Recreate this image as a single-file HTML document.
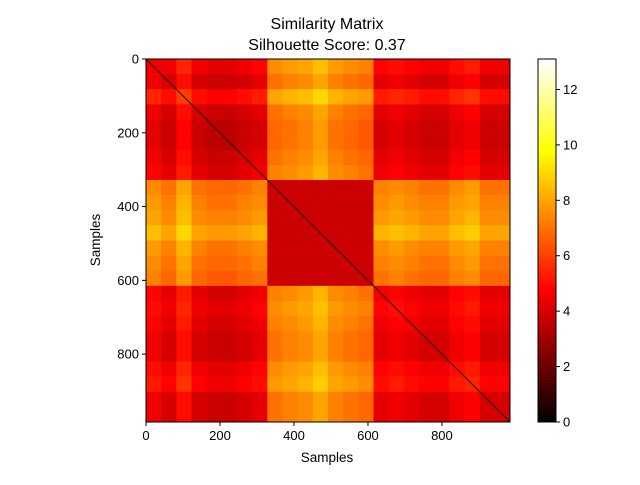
<!DOCTYPE html>
<html><head><meta charset="utf-8"><style>
body{margin:0;background:#fff;}
svg text{font-family:"Liberation Sans","DejaVu Sans",sans-serif;fill:#000;}
</style></head><body>
<svg id="chart" width="640" height="480" viewBox="0 0 640 480" xmlns="http://www.w3.org/2000/svg">
<text x="327" y="29" font-size="16" text-anchor="middle">Similarity Matrix</text>
<text x="327" y="50" font-size="16" text-anchor="middle">Silhouette Score: 0.37</text>
<g id="heat"></g>
<g id="axes"></g>
<g id="cbar"></g>
<text x="327" y="462" font-size="13.5" text-anchor="middle">Samples</text>
<text x="100" y="240" font-size="13.5" text-anchor="middle" transform="rotate(-90 100 240)">Samples</text>
</svg>
<script>
const nSamples = 984;
const vmax = 13.1;
const xTicks = [0,200,400,600,800];
const yTicks = [0,200,400,600,800];
const cbarTicks = [0,2,4,6,8,10,12];
const matrix = [
[4.5,4.5,5.5,4.5,4.3,4.3,4.5,4.8,7.5,7.8,8,8.5,7.8,7.5,7.3,4.8,5,4.8,4.5,4.5,5,5.3,4.5,4.5],
[4.5,4,5,4,3.8,3.8,4,4.3,7,7.3,7.5,8,7.3,7,6.8,4.3,4.5,4.3,4,4,4.5,4.8,4,4],
[5.5,5,6,5,4.8,4.8,5,5.3,8,8.3,8.5,9,8.3,8,7.8,5.3,5.5,5.3,5,5,5.5,5.8,5,5],
[4.5,4,5,4,3.8,3.8,4,4.3,7,7.3,7.5,8,7.3,7,6.8,4.3,4.5,4.3,4,4,4.5,4.8,4,4],
[4.3,3.8,4.8,3.8,3.5,3.5,3.8,4,6.8,7,7.3,7.8,7,6.8,6.5,4,4.3,4,3.8,3.8,4.3,4.5,3.8,3.8],
[4.3,3.8,4.8,3.8,3.5,3.5,3.8,4,6.8,7,7.3,7.8,7,6.8,6.5,4,4.3,4,3.8,3.8,4.3,4.5,3.8,3.8],
[4.5,4,5,4,3.8,3.8,4,4.3,7,7.3,7.5,8,7.3,7,6.8,4.3,4.5,4.3,4,4,4.5,4.8,4,4],
[4.8,4.3,5.3,4.3,4,4,4.3,4.5,7.3,7.5,7.8,8.3,7.5,7.3,7,4.5,4.8,4.5,4.3,4.3,4.8,5,4.3,4.3],
[7.5,7,8,7,6.8,6.8,7,7.3,3.8,3.8,3.8,3.8,3.8,3.8,3.8,7.3,7.5,7.3,7,7,7.5,7.8,7,7],
[7.8,7.3,8.3,7.3,7,7,7.3,7.5,3.8,3.8,3.8,3.8,3.8,3.8,3.8,7.5,7.8,7.5,7.3,7.3,7.8,8,7.3,7.3],
[8,7.5,8.5,7.5,7.3,7.3,7.5,7.8,3.8,3.8,3.8,3.8,3.8,3.8,3.8,7.8,8,7.8,7.5,7.5,8,8.3,7.5,7.5],
[8.5,8,9,8,7.8,7.8,8,8.3,3.8,3.8,3.8,3.8,3.8,3.8,3.8,8.3,8.5,8.3,8,8,8.5,8.8,8,8],
[7.8,7.3,8.3,7.3,7,7,7.3,7.5,3.8,3.8,3.8,3.8,3.8,3.8,3.8,7.5,7.8,7.5,7.3,7.3,7.8,8,7.3,7.3],
[7.5,7,8,7,6.8,6.8,7,7.3,3.8,3.8,3.8,3.8,3.8,3.8,3.8,7.3,7.5,7.3,7,7,7.5,7.8,7,7],
[7.3,6.8,7.8,6.8,6.5,6.5,6.8,7,3.8,3.8,3.8,3.8,3.8,3.8,3.8,7,7.3,7,6.8,6.8,7.3,7.5,6.8,6.8],
[4.8,4.3,5.3,4.3,4,4,4.3,4.5,7.3,7.5,7.8,8.3,7.5,7.3,7,4.5,4.8,4.5,4.3,4.3,4.8,5,4.3,4.3],
[5,4.5,5.5,4.5,4.3,4.3,4.5,4.8,7.5,7.8,8,8.5,7.8,7.5,7.3,4.8,5,4.8,4.5,4.5,5,5.3,4.5,4.5],
[4.8,4.3,5.3,4.3,4,4,4.3,4.5,7.3,7.5,7.8,8.3,7.5,7.3,7,4.5,4.8,4.5,4.3,4.3,4.8,5,4.3,4.3],
[4.5,4,5,4,3.8,3.8,4,4.3,7,7.3,7.5,8,7.3,7,6.8,4.3,4.5,4.3,4,4,4.5,4.8,4,4],
[4.5,4,5,4,3.8,3.8,4,4.3,7,7.3,7.5,8,7.3,7,6.8,4.3,4.5,4.3,4,4,4.5,4.8,4,4],
[5,4.5,5.5,4.5,4.3,4.3,4.5,4.8,7.5,7.8,8,8.5,7.8,7.5,7.3,4.8,5,4.8,4.5,4.5,5,5.3,4.5,4.5],
[5.3,4.8,5.8,4.8,4.5,4.5,4.8,5,7.8,8,8.3,8.8,8,7.8,7.5,5,5.3,5,4.8,4.8,5.3,5.5,4.8,4.8],
[4.5,4,5,4,3.8,3.8,4,4.3,7,7.3,7.5,8,7.3,7,6.8,4.3,4.5,4.3,4,4,4.5,4.8,4,4],
[4.5,4,5,4,3.8,3.8,4,4.3,7,7.3,7.5,8,7.3,7,6.8,4.3,4.5,4.3,4,4,4.5,4.8,4,4]
];
const NS='http://www.w3.org/2000/svg';
const X0=146,X1=510,Y0=59,Y1=422,CX0=538,CX1=556;
const xScale=v=>X0+(X1-X0)*v/nSamples;
const yScale=v=>Y0+(Y1-Y0)*v/nSamples;
const cScale=v=>Y1-(Y1-Y0)*v/vmax;
function clamp(x){return Math.max(0,Math.min(1,x));}
function hot(v){const t=clamp(v/vmax);
 const r=clamp(t/0.365),g=clamp((t-0.365)/0.381),b=clamp((t-0.746)/0.254);
 return `rgb(${Math.round(r*255)},${Math.round(g*255)},${Math.round(b*255)})`;}
function mk(tag,attrs,parent){const e=document.createElementNS(NS,tag);for(const k in attrs)e.setAttribute(k,attrs[k]);parent.appendChild(e);return e;}
const heat=document.getElementById('heat');
const n=matrix.length, step=nSamples/n;
matrix.forEach((row,i)=>row.forEach((v,j)=>{
 const x=xScale(j*step),y=yScale(i*step);
 const r=mk('rect',{x:x,y:y,width:xScale((j+1)*step)-x+0.3,height:yScale((i+1)*step)-y+0.3,fill:hot(v)},heat);
 
 
}));
const diag=mk('line',{x1:X0,y1:Y0,x2:X1,y2:Y1,stroke:'#200',"stroke-width":1},heat);


const axes=document.getElementById('axes');
const frame=mk('rect',{x:X0,y:Y0,width:X1-X0,height:Y1-Y0,fill:'none',stroke:'#000','stroke-width':1},axes);


xTicks.forEach(t=>{const x=xScale(t);
 const l=mk('line',{x1:x,x2:x,y1:Y1,y2:Y1+4,stroke:'#000'},axes);
 
 
 const tx=mk('text',{x:x,y:Y1+18,'font-size':13,'text-anchor':'middle'},axes);tx.textContent=t;
 
 
});
yTicks.forEach(t=>{const y=yScale(t);
 const l=mk('line',{x1:X0-4,x2:X0,y1:y,y2:y,stroke:'#000'},axes);
 
 
 const tx=mk('text',{x:X0-7,y:y+4.5,'font-size':13,'text-anchor':'end'},axes);tx.textContent=t;
 
 
});
const cbar=document.getElementById('cbar');
const N=120;
for(let k=0;k<N;k++){const v0=vmax*k/N,v1=vmax*(k+1)/N;
 const r=mk('rect',{x:CX0,y:cScale(v1),width:CX1-CX0,height:cScale(v0)-cScale(v1)+0.3,fill:hot((v0+v1)/2)},cbar);
 
 
}
const cf=mk('rect',{x:CX0,y:Y0,width:CX1-CX0,height:Y1-Y0,fill:'none',stroke:'#000'},cbar);


cbarTicks.forEach(t=>{const y=cScale(t);
 const l=mk('line',{x1:CX1,x2:CX1+4,y1:y,y2:y,stroke:'#000'},cbar);
 
 
 const tx=mk('text',{x:CX1+7,y:y+4.5,'font-size':13},cbar);tx.textContent=t;
 
 
});
</script>
</body></html>
